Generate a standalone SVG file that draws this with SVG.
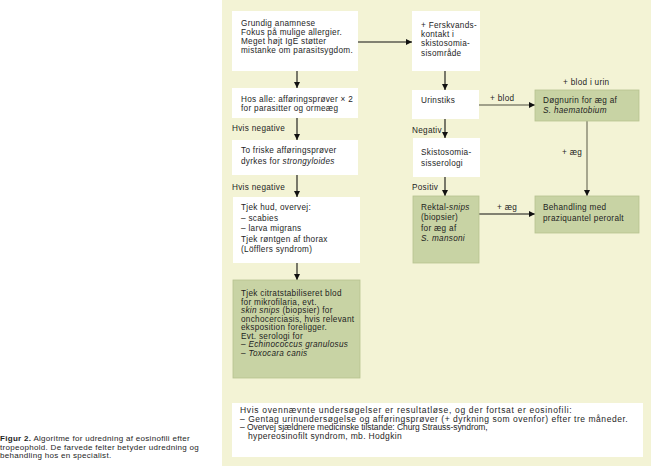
<svg xmlns="http://www.w3.org/2000/svg" width="651" height="470" viewBox="0 0 651 470">
<defs>
<style>
text{font-family:"Liberation Sans",Arial,sans-serif;font-size:8.2px;letter-spacing:0.3px;fill:#1e1e1e}
.it{font-style:italic}
.wb{fill:#ffffff}
.gb{fill:#c8d3a4;stroke:#b6c290;stroke-width:0.8}
.ln{stroke:#111;stroke-width:1.1;fill:none}
.lg{stroke:#858570;stroke-width:1.4;fill:none}
.cap{font-size:8px}
.bt{font-size:8.5px}
</style>
<marker id="ah" viewBox="0 0 10 10" refX="10" refY="5" markerWidth="6" markerHeight="6" orient="auto" markerUnits="userSpaceOnUse"><path d="M0,0 L10,5 L0,10 z" fill="#111"/></marker>
</defs>
<rect x="0" y="0" width="651" height="470" fill="#ffffff"/>
<rect id="panel" x="222" y="0" width="429" height="466" fill="#f3f3d5"/>

<g id="connectors">
<line class="ln" x1="358" y1="42" x2="412" y2="42" marker-end="url(#ah)"/>
<line class="ln" x1="297" y1="71" x2="297" y2="88" marker-end="url(#ah)"/>
<line class="ln" x1="297" y1="118" x2="297" y2="140" marker-end="url(#ah)"/>
<line class="ln" x1="297" y1="175" x2="297" y2="197" marker-end="url(#ah)"/>
<line class="ln" x1="297" y1="263" x2="297" y2="280" marker-end="url(#ah)"/>
<line class="ln" x1="445" y1="71" x2="445" y2="90" marker-end="url(#ah)"/>
<line class="ln" x1="445" y1="119" x2="445" y2="138" marker-end="url(#ah)"/>
<line class="ln" x1="445" y1="177" x2="445" y2="196" marker-end="url(#ah)"/>
<line class="lg" x1="479" y1="105" x2="535" y2="105" marker-end="url(#ah)"/>
<line class="lg" x1="587" y1="121" x2="587" y2="196" marker-end="url(#ah)"/>
<line class="ln" x1="479" y1="214" x2="535" y2="214" marker-end="url(#ah)"/>
<text x="232" y="131">Hvis negative</text>
<text x="232" y="190">Hvis negative</text>
<text x="412" y="133">Negativ</text>
<text x="412" y="190">Positiv</text>
<text x="490" y="100.5">+ blod</text>
<text x="563" y="84.5">+ blod i urin</text>
<text x="562" y="154.5">+ æg</text>
<text x="497" y="210">+ æg</text>
</g>

<g id="n-anamnese">
<rect class="wb" x="232" y="11" width="126" height="60"/>
<text x="241" y="26">Grundig anamnese</text>
<text x="241" y="34.5">Fokus på mulige allergier.</text>
<text x="241" y="43.5">Meget højt IgE støtter</text>
<text x="241" y="52.5">mistanke om parasitsygdom.</text>
</g>

<g id="n-hosalle">
<rect class="wb" x="232" y="88" width="126" height="30"/>
<text x="241" y="102">Hos alle: afføringsprøver × 2</text>
<text x="241" y="111">for parasitter og ormeæg</text>
</g>

<g id="n-tofriske">
<rect class="wb" x="232" y="140" width="126" height="35"/>
<text x="241" y="153">To friske afføringsprøver</text>
<text x="241" y="163.5">dyrkes for <tspan class="it">strongyloides</tspan></text>
</g>

<g id="n-tjekhud">
<rect class="wb" x="233" y="197" width="127" height="66"/>
<text x="241" y="210">Tjek hud, overvej:</text>
<text x="241" y="220.5">– scabies</text>
<text x="241" y="231">– larva migrans</text>
<text x="241" y="241.5">Tjek røntgen af thorax</text>
<text x="241" y="252">(Löfflers syndrom)</text>
</g>

<g id="n-citrat">
<rect class="gb" x="233" y="280" width="127" height="98"/>
<text x="241" y="296">Tjek citratstabiliseret blod</text>
<text x="241" y="304.5">for mikrofilaria, evt.</text>
<text x="241" y="313"><tspan class="it">skin snips</tspan> (biopsier) for</text>
<text x="241" y="321.5">onchocerciasis, hvis relevant</text>
<text x="241" y="330">eksposition foreligger.</text>
<text x="241" y="338.5">Evt. serologi for</text>
<text x="241" y="347">– <tspan class="it">Echinococcus granulosus</tspan></text>
<text x="241" y="355.5">– <tspan class="it">Toxocara canis</tspan></text>
</g>

<g id="n-ferskvand">
<rect class="wb" x="412" y="11" width="68" height="60"/>
<text x="421" y="28">+ Ferskvands-</text>
<text x="421" y="37">kontakt i</text>
<text x="421" y="46">skistosomia-</text>
<text x="421" y="55.5">sisområde</text>
</g>

<g id="n-urinstiks">
<rect class="wb" x="412" y="90" width="67" height="29"/>
<text x="421" y="103">Urinstiks</text>
</g>

<g id="n-serologi">
<rect class="wb" x="413" y="138" width="67" height="39"/>
<text x="421" y="154.5">Skistosomia-</text>
<text x="421" y="165.5">sisserologi</text>
</g>

<g id="n-rektal">
<rect class="gb" x="413" y="196" width="66" height="67"/>
<text x="421" y="209.5">Rektal-<tspan class="it">snips</tspan></text>
<text x="421" y="220">(biopsier)</text>
<text x="421" y="230.5">for æg af</text>
<text x="421" y="241" class="it">S. mansoni</text>
</g>

<g id="n-dognurin">
<rect class="gb" x="535" y="90" width="104" height="31"/>
<text x="543" y="103">Døgnurin for æg af</text>
<text x="543" y="113" class="it">S. haematobium</text>
</g>

<g id="n-behandling">
<rect class="gb" x="535" y="196" width="104" height="37"/>
<text x="543" y="209.5">Behandling med</text>
<text x="543" y="220.5">praziquantel peroralt</text>
</g>

<g id="n-bottom">
<rect class="wb" x="232" y="403" width="411" height="54"/>
<text class="bt" x="240" y="413" textLength="332">Hvis ovennævnte undersøgelser er resultatløse, og der fortsat er eosinofili:</text>
<text class="bt" x="240" y="421.7" textLength="388">– Gentag urinundersøgelse og afføringsprøver (+ dyrkning som ovenfor) efter tre måneder.</text>
<text class="bt" x="240" y="430.4" textLength="248">– Overvej sjældnere medicinske tilstande: Churg Strauss-syndrom,</text>
<text class="bt" x="248" y="439.1" textLength="154">hypereosinofilt syndrom, mb. Hodgkin</text>
</g>

<g id="caption">
<text class="cap" x="0" y="441"><tspan font-weight="bold">Figur 2.</tspan> Algoritme for udredning af eosinofili efter</text>
<text class="cap" x="0" y="449.5">tropeophold. De farvede felter betyder udredning og</text>
<text class="cap" x="0" y="458">behandling hos en specialist.</text>
</g>
</svg>
